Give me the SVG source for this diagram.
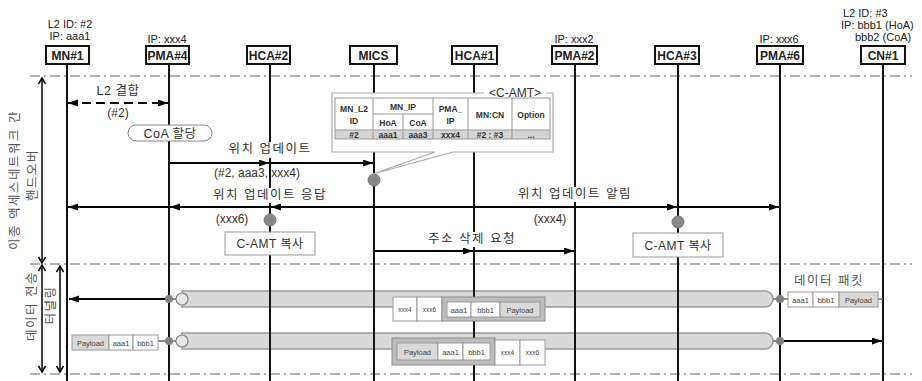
<svg xmlns="http://www.w3.org/2000/svg" width="922" height="381" viewBox="0 0 922 381">
<defs>
<marker id="ah" markerUnits="userSpaceOnUse" markerWidth="11" markerHeight="8" refX="10" refY="3.5" orient="auto"><path d="M0,0 L10,3.5 L0,7 z" fill="#000" stroke="none"/></marker>
<marker id="ahs" markerUnits="userSpaceOnUse" markerWidth="11" markerHeight="8" refX="10" refY="3.5" orient="auto-start-reverse"><path d="M0,0 L10,3.5 L0,7 z" fill="#000" stroke="none"/></marker>
<marker id="chev" markerUnits="userSpaceOnUse" markerWidth="10" markerHeight="10" refX="7" refY="4" orient="auto-start-reverse"><path d="M1,0.5 L7,4 L1,7.5" fill="none" stroke="#000" stroke-width="1.5" stroke-dasharray="none"/></marker>
</defs>
<style>
.t{font-family:"Liberation Sans","Noto Sans CJK KR",sans-serif;fill:#222}
.hd{font-size:11px}
.nl{font-size:12px;font-weight:bold;text-anchor:middle}
.box{fill:#fff;stroke:#111;stroke-width:2}
.life{stroke:#111;stroke-width:2}
.sep{stroke:#999;stroke-width:1.3;stroke-dasharray:10,4,2,4;fill:none}
.msg{stroke:#000;stroke-width:1.8;fill:none}
.ko{font-size:12.5px;letter-spacing:1.5px;fill:#333;text-anchor:middle}
.lbl{font-size:12px;fill:#333;text-anchor:middle}
.bg{fill:#fff}
.dot{fill:#888;stroke:#777;stroke-width:1}
.sdot{fill:#808080}
.tb{font-size:8.5px;font-weight:bold;text-anchor:middle;fill:#333}
.tl{stroke:#999;stroke-width:1;fill:none}
.cell{fill:#fff;stroke:#999;stroke-width:1}
.gcell{fill:#d9d9d9;stroke:#999;stroke-width:1}
.grp{fill:#bdbdbd;stroke:#8c8c8c;stroke-width:1}
.pk{font-size:7.5px;fill:#444;text-anchor:middle}
.tube{fill:#d9d9d9;stroke:#9a9a9a;stroke-width:1.5}
.vt{font-size:12.5px;letter-spacing:1.5px;fill:#555;text-anchor:middle}
</style>
<rect width="922" height="381" fill="#fff"/>

<g id="separators">
<line class="sep" x1="30" y1="76" x2="912" y2="76"/>
<line class="sep" x1="30" y1="264" x2="912" y2="264"/>
<line class="sep" x1="30" y1="374" x2="912" y2="374"/>
</g>

<g id="tunnels">
<path class="tube" d="M182,291 H765 A8,8 0 0 1 765,307 H182 Z"/>
<circle cx="182" cy="299" r="6" fill="#e6e6e6" stroke="#888" stroke-width="1.2"/>
<path class="tube" d="M182,333 H765 A8,8 0 0 1 765,349 H182 Z"/>
<circle cx="182" cy="341" r="6" fill="#e6e6e6" stroke="#888" stroke-width="1.2"/>
</g>

<g id="lifelines">
<line class="life" x1="67" y1="64" x2="67" y2="381"/>
<line class="life" x1="169" y1="64" x2="169" y2="381"/>
<line class="life" x1="270" y1="64" x2="270" y2="381"/>
<line class="life" x1="374" y1="64" x2="374" y2="381"/>
<line class="life" x1="474" y1="64" x2="474" y2="381"/>
<line class="life" x1="575" y1="64" x2="575" y2="381"/>
<line class="life" x1="678" y1="64" x2="678" y2="381"/>
<line class="life" x1="780" y1="64" x2="780" y2="381"/>
<line class="life" x1="883" y1="64" x2="883" y2="381"/>
</g>

<g id="node-MN1">
<text class="t hd" x="70" y="28" text-anchor="middle">L2 ID: #2</text>
<text class="t hd" x="70" y="40" text-anchor="middle">IP: aaa1</text>
<rect class="box" x="46" y="46" width="43" height="18"/>
<text class="t nl" x="67.5" y="59.5">MN#1</text>
</g>
<g id="node-PMA4">
<text class="t hd" x="167" y="43" text-anchor="middle">IP: xxx4</text>
<rect class="box" x="146" y="46" width="43" height="18"/>
<text class="t nl" x="167.5" y="59.5">PMA#4</text>
</g>
<g id="node-HCA2">
<rect class="box" x="247" y="46" width="43" height="18"/>
<text class="t nl" x="268.5" y="59.5">HCA#2</text>
</g>
<g id="node-MICS">
<rect class="box" x="350" y="46" width="47" height="18"/>
<text class="t nl" x="373.5" y="59.5">MICS</text>
</g>
<g id="node-HCA1">
<rect class="box" x="452" y="46" width="45" height="18"/>
<text class="t nl" x="474.5" y="59.5">HCA#1</text>
</g>
<g id="node-PMA2">
<text class="t hd" x="574" y="43" text-anchor="middle">IP: xxx2</text>
<rect class="box" x="552" y="46" width="45" height="18"/>
<text class="t nl" x="574.5" y="59.5">PMA#2</text>
</g>
<g id="node-HCA3">
<rect class="box" x="655" y="46" width="44" height="18"/>
<text class="t nl" x="677" y="59.5">HCA#3</text>
</g>
<g id="node-PMA6">
<text class="t hd" x="779" y="43" text-anchor="middle">IP: xxx6</text>
<rect class="box" x="757" y="46" width="46" height="18"/>
<text class="t nl" x="780" y="59.5">PMA#6</text>
</g>
<g id="node-CN1">
<text class="t hd" x="843" y="17">L2 ID: #3</text>
<text class="t hd" x="841" y="29">IP: bbb1 (HoA)</text>
<text class="t hd" x="855" y="41">bbb2 (CoA)</text>
<rect class="box" x="861" y="46" width="44" height="18"/>
<text class="t nl" x="883" y="59.5">CN#1</text>
</g>

<g id="side-labels">
<line x1="42" y1="78" x2="42" y2="263" stroke="#000" stroke-width="1.5" marker-start="url(#chev)" marker-end="url(#chev)"/>
<line x1="42" y1="265" x2="42" y2="372" stroke="#000" stroke-width="1.5" marker-start="url(#chev)" marker-end="url(#chev)"/>
<line x1="60" y1="266" x2="60" y2="372" stroke="#000" stroke-width="1.5" marker-start="url(#chev)" marker-end="url(#chev)"/>
<text class="t vt" transform="translate(19,180) rotate(-90)">이종 액세스네트워크 간</text>
<text class="t vt" transform="translate(37,175) rotate(-90)">핸드오버</text>
<text class="t vt" transform="translate(36,306) rotate(-90)">데이터 전송</text>
<text class="t vt" transform="translate(55,305) rotate(-90)">터널링</text>
</g>

<g id="connectors">
<line x1="68" y1="103" x2="168" y2="103" stroke="#000" stroke-width="1.8" stroke-dasharray="9,5" marker-start="url(#ahs)" marker-end="url(#ahs)"/>
<line class="msg" x1="169" y1="163" x2="269" y2="163" marker-end="url(#ah)"/>
<line class="msg" x1="270" y1="163" x2="373" y2="163" marker-end="url(#ah)"/>
<line class="msg" x1="374" y1="207" x2="271" y2="207" marker-end="url(#ah)"/>
<line class="msg" x1="270" y1="207" x2="170" y2="207" marker-end="url(#ah)"/>
<line class="msg" x1="169" y1="207" x2="68" y2="207" marker-end="url(#ah)"/>
<line class="msg" x1="374" y1="207" x2="677" y2="207" marker-end="url(#ah)"/>
<line class="msg" x1="678" y1="207" x2="779" y2="207" marker-end="url(#ah)"/>
<line class="msg" x1="374" y1="251" x2="473" y2="251" marker-end="url(#ah)"/>
<line class="msg" x1="474" y1="251" x2="574" y2="251" marker-end="url(#ah)"/>
<line class="msg" x1="169" y1="299" x2="69" y2="299" marker-end="url(#ah)"/>
<line class="msg" x1="780" y1="341" x2="882" y2="341" marker-end="url(#ah)"/>
<line stroke="#666" stroke-width="1.5" x1="169" y1="299" x2="176" y2="299"/>
<line stroke="#666" stroke-width="1.5" x1="773" y1="299" x2="788" y2="299"/>
<line stroke="#666" stroke-width="1.5" x1="878" y1="299" x2="883" y2="299"/>
<line stroke="#666" stroke-width="1.5" x1="158" y1="341" x2="176" y2="341"/>
<line stroke="#666" stroke-width="1.5" x1="773" y1="341" x2="780" y2="341"/>
</g>

<g id="message-labels">
<rect class="bg" x="228" y="142" width="84" height="16"/>
<rect class="bg" x="212" y="188" width="116" height="15"/>
<rect class="bg" x="516" y="187" width="118" height="15"/>
<rect class="bg" x="428" y="232" width="88" height="15"/>
<text class="t ko" x="118" y="95" style="letter-spacing:0.5px">L2 결합</text>
<text class="t lbl" x="118" y="117">(#2)</text>
<text class="t ko" x="270" y="153">위치 업데이트</text>
<text class="t lbl" x="257" y="177">(#2, aaa3, xxx4)</text>
<text class="t ko" x="270" y="199">위치 업데이트 응답</text>
<text class="t ko" x="575" y="198">위치 업데이트 알림</text>
<text class="t lbl" x="232" y="223">(xxx6)</text>
<text class="t lbl" x="550" y="223">(xxx4)</text>
<text class="t ko" x="472" y="243">주소 삭제 요청</text>
</g>

<g id="coa-alloc">
<rect x="128" y="125" width="84" height="16" rx="8" fill="#fff" stroke="#888" stroke-width="1"/>
<text class="t ko" x="170" y="137.5" style="letter-spacing:0.5px">CoA 할당</text>
</g>

<g id="mics-event">
<circle class="dot" cx="374" cy="180" r="6"/>
</g>

<g id="c-amt">
<path d="M332,93 H553 V152 H453 L373,174 L435,152 H332 Z" fill="#fff" stroke="#aaa" stroke-width="1.2"/>
<rect x="484" y="87" width="62" height="12" fill="#fff"/>
<text class="t lbl" x="515" y="97">&lt;C-AMT&gt;</text>
<rect x="335" y="130" width="215" height="9" fill="#d4d4d4"/>
<rect class="tl" x="335" y="98" width="215" height="41"/>
<line class="tl" x1="335" y1="130" x2="550" y2="130"/>
<line class="tl" x1="373" y1="114" x2="433" y2="114"/>
<line class="tl" x1="373" y1="98" x2="373" y2="139"/>
<line class="tl" x1="403" y1="114" x2="403" y2="139"/>
<line class="tl" x1="433" y1="98" x2="433" y2="139"/>
<line class="tl" x1="468" y1="98" x2="468" y2="139"/>
<line class="tl" x1="512" y1="98" x2="512" y2="139"/>
<text class="t tb" x="354" y="112">MN_L2</text>
<text class="t tb" x="354" y="124">ID</text>
<text class="t tb" x="403" y="110">MN_IP</text>
<text class="t tb" x="388" y="126">HoA</text>
<text class="t tb" x="418" y="126">CoA</text>
<text class="t tb" x="450.5" y="112">PMA_</text>
<text class="t tb" x="450.5" y="124">IP</text>
<text class="t tb" x="490" y="118">MN:CN</text>
<text class="t tb" x="531" y="118">Option</text>
<text class="t tb" x="354" y="137.5">#2</text>
<text class="t tb" x="388" y="137.5">aaa1</text>
<text class="t tb" x="418" y="137.5">aaa3</text>
<text class="t tb" x="450.5" y="137.5">xxx4</text>
<text class="t tb" x="490" y="137.5">#2 : #3</text>
<text class="t tb" x="531" y="137.5">...</text>
</g>

<g id="camt-copy-hca2">
<circle class="dot" cx="270" cy="220" r="6"/>
<rect x="225" y="232" width="90" height="23" fill="#fff" stroke="#999" stroke-width="1"/>
<text class="t lbl" x="270" y="248" style="letter-spacing:0.5px">C-AMT 복사</text>
</g>
<g id="camt-copy-hca3">
<circle class="dot" cx="678" cy="222" r="6"/>
<rect x="633" y="233" width="90" height="24" fill="#fff" stroke="#999" stroke-width="1"/>
<text class="t lbl" x="678" y="249.5" style="letter-spacing:0.5px">C-AMT 복사</text>
</g>

<g id="tunnel-down-packet">
<circle class="sdot" cx="169" cy="299" r="4"/>
<circle class="sdot" cx="780" cy="299" r="4"/>
<rect class="cell" x="393" y="297" width="24" height="24"/>
<rect class="cell" x="417" y="297" width="25" height="24"/>
<rect class="grp" x="442" y="297" width="103" height="24"/>
<rect class="cell" x="447" y="302" width="24" height="15"/>
<rect class="cell" x="471" y="302" width="29" height="15"/>
<rect class="gcell" x="500" y="302" width="40" height="15"/>
<text class="t pk" x="405" y="312" style="font-size:6.5px">xxx4</text>
<text class="t pk" x="429.5" y="312" style="font-size:6.5px">xxx6</text>
<text class="t pk" x="459" y="312.5">aaa1</text>
<text class="t pk" x="485.5" y="312.5">bbb1</text>
<text class="t pk" x="520" y="312.5">Payload</text>
</g>

<g id="tunnel-up-packet">
<circle class="sdot" cx="169" cy="341" r="4"/>
<circle class="sdot" cx="780" cy="341" r="4"/>
<rect class="grp" x="392" y="338" width="103" height="27"/>
<rect class="gcell" x="397" y="343" width="41" height="17"/>
<rect class="cell" x="438" y="343" width="25" height="17"/>
<rect class="cell" x="463" y="343" width="27" height="17"/>
<rect class="cell" x="495" y="340" width="25" height="25"/>
<rect class="cell" x="520" y="340" width="25" height="25"/>
<text class="t pk" x="417.5" y="354.5">Payload</text>
<text class="t pk" x="450.5" y="354.5">aaa1</text>
<text class="t pk" x="476.5" y="354.5">bbb1</text>
<text class="t pk" x="507.5" y="355" style="font-size:6.5px">xxx4</text>
<text class="t pk" x="532.5" y="355" style="font-size:6.5px">xxx6</text>
</g>

<g id="packet-cn">
<text class="t ko" x="829" y="285" style="fill:#555">데이터 패킷</text>
<rect class="cell" x="788" y="292" width="25" height="15"/>
<rect class="cell" x="813" y="292" width="26" height="15"/>
<rect class="gcell" x="839" y="292" width="39" height="15"/>
<text class="t pk" x="800.5" y="302.5">aaa1</text>
<text class="t pk" x="826" y="302.5">bbb1</text>
<text class="t pk" x="858.5" y="302.5">Payload</text>
</g>

<g id="packet-mn">
<rect class="gcell" x="72" y="335" width="37" height="15"/>
<rect class="cell" x="109" y="335" width="24" height="15"/>
<rect class="cell" x="133" y="335" width="25" height="15"/>
<text class="t pk" x="90.5" y="345.5">Payload</text>
<text class="t pk" x="121" y="345.5">aaa1</text>
<text class="t pk" x="145.5" y="345.5">bbb1</text>
</g>
</svg>
